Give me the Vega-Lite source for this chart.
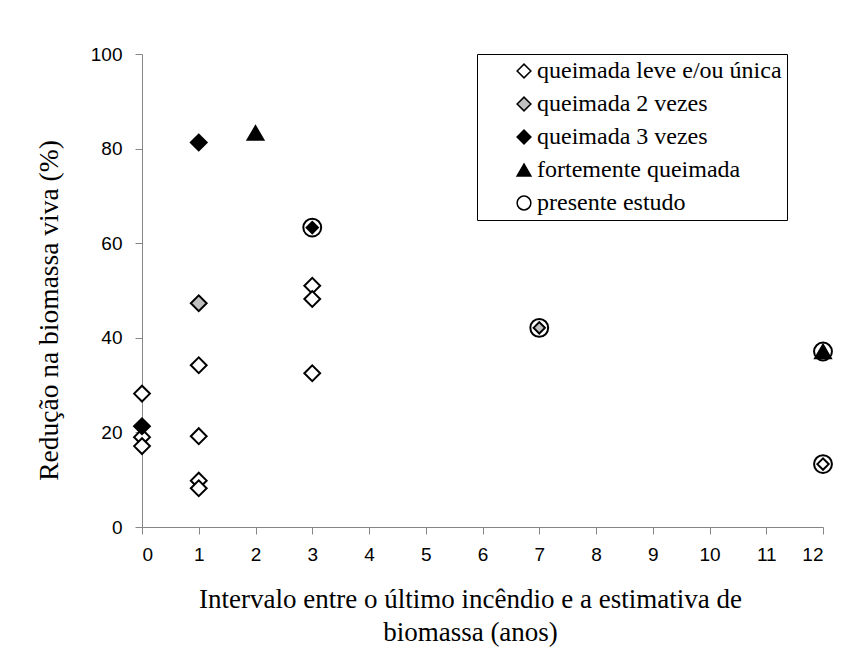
{
  "$schema": "https://vega.github.io/schema/vega-lite/v6.json",
  "autosize": "none",
  "width": 681,
  "height": 473,
  "padding": {"left": 142, "top": 54, "right": 30, "bottom": 133},
  "background": "white",
  "data": {
    "values": [
      {"x": 0, "y": 28.2, "serie": "queimada leve e/ou única", "estudo": false},
      {"x": 0, "y": 19.0, "serie": "queimada leve e/ou única", "estudo": false},
      {"x": 0, "y": 17.1, "serie": "queimada leve e/ou única", "estudo": false},
      {"x": 0, "y": 21.3, "serie": "queimada 3 vezes", "estudo": false},
      {"x": 1, "y": 34.2, "serie": "queimada leve e/ou única", "estudo": false},
      {"x": 1, "y": 19.2, "serie": "queimada leve e/ou única", "estudo": false},
      {"x": 1, "y": 9.8, "serie": "queimada leve e/ou única", "estudo": false},
      {"x": 1, "y": 8.2, "serie": "queimada leve e/ou única", "estudo": false},
      {"x": 1, "y": 47.3, "serie": "queimada 2 vezes", "estudo": false},
      {"x": 1, "y": 81.3, "serie": "queimada 3 vezes", "estudo": false},
      {"x": 2, "y": 83.3, "serie": "fortemente queimada", "estudo": false},
      {"x": 3, "y": 51.0, "serie": "queimada leve e/ou única", "estudo": false},
      {"x": 3, "y": 48.2, "serie": "queimada leve e/ou única", "estudo": false},
      {"x": 3, "y": 32.5, "serie": "queimada leve e/ou única", "estudo": false},
      {"x": 3, "y": 63.3, "serie": "queimada 3 vezes", "estudo": true},
      {"x": 7, "y": 42.1, "serie": "queimada 2 vezes", "estudo": true},
      {"x": 12, "y": 37.1, "serie": "fortemente queimada", "estudo": true},
      {"x": 12, "y": 13.3, "serie": "queimada leve e/ou única", "estudo": true},
      {"x": 3, "y": 63.3, "serie": "presente estudo", "estudo": true},
      {"x": 7, "y": 42.1, "serie": "presente estudo", "estudo": true},
      {"x": 12, "y": 37.1, "serie": "presente estudo", "estudo": true},
      {"x": 12, "y": 13.3, "serie": "presente estudo", "estudo": true}
    ]
  },
  "encoding": {
    "x": {
      "field": "x", "type": "quantitative",
      "scale": {"domain": [0, 12], "nice": false},
      "axis": {
        "values": [0,1,2,3,4,5,6,7,8,9,10,11,12],
        "format": "d",
        "title": ["Intervalo entre o último incêndio e a estimativa de", "biomassa (anos)"],
        "titleFont": "Liberation Serif",
        "titleX": 328,
        "titleAlign": "center",
        "titleLineHeight": 33,
        "titlePadding": 22,
        "labelPadding": 11
      }
    },
    "y": {
      "field": "y", "type": "quantitative",
      "scale": {"domain": [0, 100], "nice": false},
      "axis": {
        "values": [0, 20, 40, 60, 80, 100],
        "title": "Redução na biomassa viva (%)",
        "titleFont": "Liberation Serif",
        "titleFontSize": 27.5,
        "titleY": 256,
        "titleAlign": "center",
        "titlePadding": 27,
        "labelPadding": 13
      }
    }
  },
  "layer": [
    {
      "transform": [{"filter": "datum.serie != 'presente estudo' && (!datum.estudo || datum.serie == 'fortemente queimada')"}],
      "mark": {"type": "point", "filled": true, "stroke": "black", "strokeWidth": 2, "size": 250, "opacity": 1},
      "encoding": {
        "shape": {
          "field": "serie", "type": "nominal",
          "scale": {
            "domain": ["queimada leve e/ou única", "queimada 2 vezes", "queimada 3 vezes", "fortemente queimada", "presente estudo"],
            "range": ["diamond", "diamond", "diamond", "triangle-up", "circle"]
          },
          "legend": {
            "title": null,
            "orient": "none",
            "legendX": 335,
            "legendY": 0,
            "strokeColor": "black",
            "fillColor": "white",
            "padding": 5,
            "symbolOffset": 30,
            "labelOffset": 1,
            "symbolSize": 190,
            "labelFont": "Liberation Serif",
            "labelFontSize": 24,
            "labelColor": "black",
            "labelLimit": 500,
            "rowPadding": 9,
            "labelExpr": "datum.label + '\u00a0\u00a0\u00a0\u00a0\u00a0\u00a0\u00a0\u00a0\u00a0\u00a0\u00a0'",
            "encode": {
              "symbols": {"update": {"stroke": {"value": "black"}, "strokeWidth": {"value": 1}, "size": {"value": 190}}}
            }
          }
        },
        "fill": {
          "field": "serie", "type": "nominal",
          "scale": {
            "domain": ["queimada leve e/ou única", "queimada 2 vezes", "queimada 3 vezes", "fortemente queimada", "presente estudo"],
            "range": ["white", "#bfbfbf", "black", "black", "white"]
          },
          "legend": {
            "title": null,
            "orient": "none",
            "legendX": 335,
            "legendY": 0,
            "strokeColor": "black",
            "fillColor": "white",
            "padding": 5,
            "symbolOffset": 30,
            "labelOffset": 1,
            "symbolSize": 190,
            "labelFont": "Liberation Serif",
            "labelFontSize": 24,
            "labelColor": "black",
            "labelLimit": 500,
            "rowPadding": 9,
            "labelExpr": "datum.label + '\u00a0\u00a0\u00a0\u00a0\u00a0\u00a0\u00a0\u00a0\u00a0\u00a0\u00a0'",
            "encode": {
              "symbols": {"update": {"stroke": {"value": "black"}, "strokeWidth": {"value": 1}, "size": {"value": 190}}}
            }
          }
        }
      }
    },
    {
      "transform": [{"filter": "datum.serie != 'presente estudo' && datum.estudo && datum.serie != 'fortemente queimada'"}],
      "mark": {"type": "point", "filled": true, "stroke": "black", "strokeWidth": 2, "size": 130, "opacity": 1},
      "encoding": {
        "shape": {"field": "serie", "type": "nominal", "legend": null},
        "fill": {"field": "serie", "type": "nominal", "legend": null}
      }
    },
    {
      "transform": [{"filter": "datum.serie == 'presente estudo'"}],
      "mark": {"type": "point", "filled": false, "stroke": "black", "strokeWidth": 2, "size": 320, "opacity": 1},
      "encoding": {
        "shape": {"field": "serie", "type": "nominal", "legend": null}
      }
    }
  ],
  "config": {
    "view": {"stroke": null},
    "axis": {
      "grid": false,
      "domainColor": "#868686",
      "tickColor": "#868686",
      "tickSize": 7,
      "labelFont": "Liberation Sans",
      "labelFontSize": 19,
      "labelColor": "black",
      "titleFont": "Liberation Serif",
      "titleFontSize": 27,
      "titleFontWeight": "normal",
      "titleColor": "black"
    }
  }
}
